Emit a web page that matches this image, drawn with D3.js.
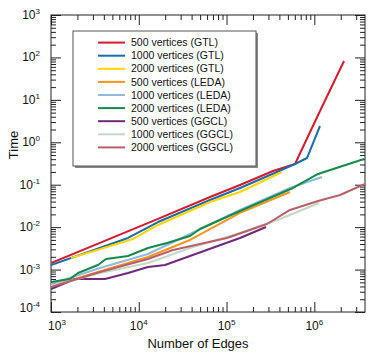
<!DOCTYPE html>
<html lang="en">
<head>
<meta charset="UTF-8">
<title>Time vs Number of Edges</title>
<script src="https://d3js.org/d3.v7.min.js"></script>
<style>
  body { margin: 0; background: #fff; }
  text { font-family: "Liberation Sans", Arial, sans-serif; fill: #111; }
  .series { fill: none; stroke-width: 2; stroke-linejoin: round; stroke-linecap: butt; }
</style>
</head>
<body>
<svg id="chart" width="370" height="362"></svg>
<script>
// series labels + colours, same order as legend
const seriesNames = [
  "500 vertices (GTL)", "1000 vertices (GTL)", "2000 vertices (GTL)",
  "500 vertices (LEDA)", "1000 vertices (LEDA)", "2000 vertices (LEDA)",
  "500 vertices (GGCL)", "1000 vertices (GGCL)", "2000 vertices (GGCL)"
];
const seriesColors = [
  "#d41a2e", "#1a6ea8", "#ffd400",
  "#f7941d", "#8ebae0", "#148a4a",
  "#6e2a78", "#c5d8c5", "#b95f69"
];

// [edges, time in s]
const gtl500 = [[1000, 0.00143], [16560, 0.0156], [64800, 0.0514], [142300, 0.0985],
  [338300, 0.211], [602600, 0.308], [1161000, 5.46], [2180000, 82.4]];
const gtl1000 = [[1000, 0.00128], [7540, 0.00555], [16560, 0.0132], [64800, 0.0436],
  [142300, 0.0837], [312700, 0.1695], [602600, 0.308], [825400, 0.426], [1161000, 2.42]];
const gtl2000 = [[1690, 0.001875], [8598, 0.00526], [16560, 0.01124], [64800, 0.0391],
  [142300, 0.0674], [428500, 0.1995]];
const leda500 = [[1000, 0.00041], [12740, 0.00198], [38340, 0.00498], [142300, 0.0216],
  [528400, 0.0674]];
const leda1000 = [[1000, 0.000457], [3617, 0.001089], [12740, 0.00233], [38340, 0.0069],
  [142300, 0.0254], [528400, 0.0837], [1223000, 0.152]];
const leda2000 = [[1000, 0.00051], [1646, 0.0006], [2030, 0.000831], [2315, 0.000926],
  [3432, 0.00128], [4233, 0.001775], [7540, 0.00209], [12740, 0.00323], [20970, 0.00423],
  [38340, 0.00619], [49840, 0.00905], [142300, 0.024], [571600, 0.0837], [1102000, 0.179],
  [3682000, 0.404]];
const ggcl500 = [[1000, 0.000349], [1877, 0.0006], [4123, 0.0006], [7540, 0.000831],
  [12740, 0.00115], [19900, 0.00128], [38340, 0.00209], [142300, 0.00555], [281600, 0.01008]];
const ggcl1000 = [[1000, 0.00041], [3617, 0.000831], [12740, 0.00143], [38340, 0.00323],
  [142300, 0.00728], [406600, 0.01556], [1131000, 0.0371]];
const ggcl2000 = [[1000, 0.000389], [3617, 0.000877], [12740, 0.001775], [24550, 0.00289],
  [49840, 0.00401], [101200, 0.00555], [289100, 0.01186], [528400, 0.0254],
  [1102000, 0.0413], [1963000, 0.0572], [3780000, 0.104]];

const allSeries = [gtl500, gtl1000, gtl2000, leda500, leda1000, leda2000, ggcl500, ggcl1000, ggcl2000];

const xMajor = [1e3, 1e4, 1e5, 1e6];
const yMajor = [1e-4, 1e-3, 1e-2, 1e-1, 1e0, 1e1, 1e2, 1e3];

const plotLeft = 51, plotRight = 365, plotTop = 15, plotBottom = 312;

const x = d3.scaleLog().domain([1e3, 3.78e6]).range([plotLeft, plotRight]);
const y = d3.scaleLog().domain([1e-4, 1e3]).range([plotBottom, plotTop]);

// minor ticks 2..9 per decade
function minorTicks(scale) {
  const [lo, hi] = scale.domain();
  const out = [];
  for (let d = Math.floor(Math.log10(lo)); d <= Math.ceil(Math.log10(hi)); d++) {
    for (let k = 2; k <= 9; k++) {
      const v = k * Math.pow(10, d);
      if (v > lo && v < hi) out.push(v);
    }
  }
  return out;
}
const xMinor = minorTicks(x);
const yMinor = minorTicks(y);

const svg = d3.select("#chart");

svg.append("defs").append("clipPath").attr("id", "plot-clip")
  .append("rect")
  .attr("x", plotLeft).attr("y", plotTop)
  .attr("width", plotRight - plotLeft).attr("height", plotBottom - plotTop);

// ticks on all four sides, pointing inward
function tickAxis(axisFn, scale, values, size, transform) {
  svg.append("g")
    .attr("transform", transform)
    .attr("color", "#222")
    .call(axisFn(scale).tickValues(values).tickSize(-size).tickFormat(""))
    .call(g => g.select(".domain").remove());
}
tickAxis(d3.axisBottom, x, xMinor, 5, `translate(0,${plotBottom})`);
tickAxis(d3.axisBottom, x, xMajor, 10, `translate(0,${plotBottom})`);
tickAxis(d3.axisTop, x, xMinor, 5, `translate(0,${plotTop})`);
tickAxis(d3.axisTop, x, xMajor, 10, `translate(0,${plotTop})`);
tickAxis(d3.axisLeft, y, yMinor, 5, `translate(${plotLeft},0)`);
tickAxis(d3.axisLeft, y, yMajor, 10, `translate(${plotLeft},0)`);
tickAxis(d3.axisRight, y, yMinor, 5, `translate(${plotRight},0)`);
tickAxis(d3.axisRight, y, yMajor, 10, `translate(${plotRight},0)`);

svg.append("rect")
  .attr("x", plotLeft).attr("y", plotTop)
  .attr("width", plotRight - plotLeft).attr("height", plotBottom - plotTop)
  .attr("fill", "none").attr("stroke", "#222");

// power-of-ten labels
function powLabel(sel, v) {
  sel.append("tspan").text("10");
  sel.append("tspan")
    .attr("dy", -5)
    .style("font-size", "8px")
    .text(Math.round(Math.log10(v)));
}

xMajor.forEach((v, i) => {
  svg.append("text")
    .attr("x", x(v) + (i === 0 ? 6 : 0))
    .attr("y", 330)
    .attr("text-anchor", "middle")
    .style("font-size", "12px")
    .call(powLabel, v);
});

yMajor.forEach((v, i) => {
  svg.append("text")
    .attr("x", 40)
    .attr("y", y(v) + 4 - (i === 0 ? 4 : 0))
    .attr("text-anchor", "end")
    .style("font-size", "12px")
    .call(powLabel, v);
});

svg.append("text")
  .attr("x", 198).attr("y", 348)
  .attr("text-anchor", "middle")
  .style("font-size", "13px")
  .text("Number of Edges");

svg.append("text")
  .attr("transform", "translate(17.5,145) rotate(-90)")
  .attr("text-anchor", "middle")
  .style("font-size", "13px")
  .text("Time");

// lines
const line = d3.line().x(d => x(d[0])).y(d => y(d[1]));

svg.append("g")
  .attr("clip-path", "url(#plot-clip)")
  .selectAll("path")
  .data(allSeries)
  .enter().append("path")
  .attr("class", "series")
  .attr("d", line)
  .attr("stroke", (d, i) => seriesColors[i]);

// legend
const lgX = 73, lgY = 31, lgW = 183, lgH = 135;
svg.append("rect")
  .attr("x", lgX + 2).attr("y", lgY + 2)
  .attr("width", lgW).attr("height", lgH)
  .attr("fill", "#888");
svg.append("rect")
  .attr("x", lgX).attr("y", lgY)
  .attr("width", lgW).attr("height", lgH)
  .attr("fill", "#fff").attr("stroke", "#555");

const item = svg.append("g")
  .selectAll("g")
  .data(seriesNames)
  .enter().append("g")
  .attr("transform", (d, i) => `translate(0,${42.6 + i * 13.1})`);

item.append("line")
  .attr("x1", 98).attr("x2", 125)
  .attr("stroke-width", 2)
  .attr("stroke", (d, i) => seriesColors[i]);

item.append("text")
  .attr("x", 131)
  .attr("dy", "0.35em")
  .style("font-size", "10.5px")
  .text(d => d);
</script>
</body>
</html>
